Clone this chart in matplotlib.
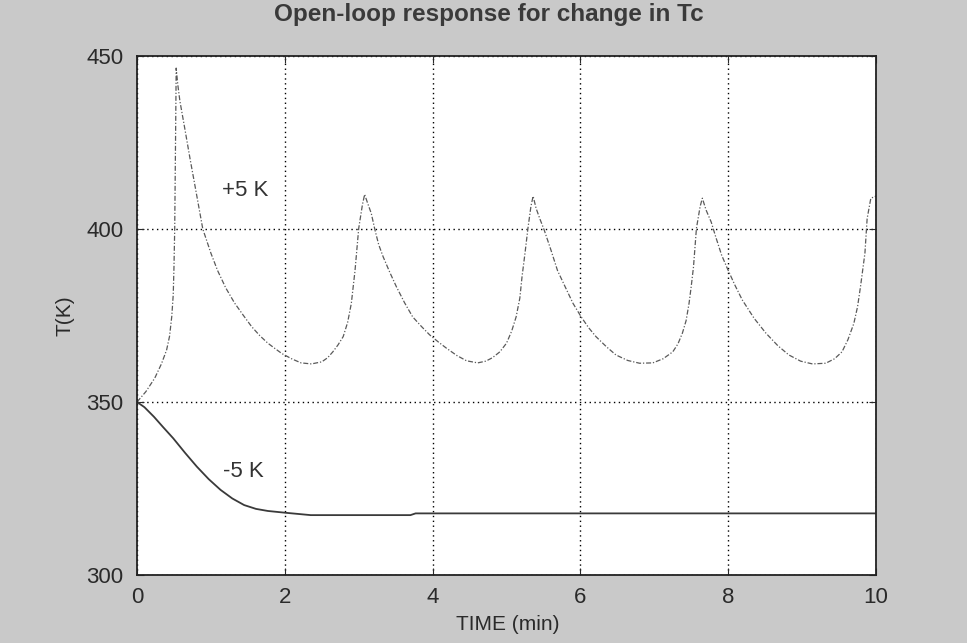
import matplotlib
matplotlib.use("Agg")
import matplotlib.pyplot as plt

plt.rcParams['font.family'] = ['Liberation Sans', 'DejaVu Sans']

# +5 K response
t_plus = [0.00, 0.12, 0.24, 0.33, 0.40, 0.44, 0.47, 0.49, 0.50, 0.51, 0.52, 0.53,
          0.55, 0.58, 0.65, 0.72, 0.78, 0.89, 1.00, 1.09, 1.20, 1.32, 1.44, 1.55,
          1.66, 1.77, 1.87, 1.96, 2.10, 2.22, 2.36, 2.50, 2.58, 2.65, 2.72, 2.79,
          2.85, 2.90, 2.95, 3.00, 3.05, 3.08,
          3.12, 3.17, 3.22, 3.27, 3.33, 3.42, 3.51, 3.62, 3.73, 3.85, 3.96, 4.08,
          4.19, 4.33, 4.46, 4.61, 4.72, 4.81, 4.91, 5.00, 5.07, 5.13, 5.18, 5.21,
          5.25, 5.29, 5.33, 5.36,
          5.40, 5.45, 5.51, 5.60, 5.69, 5.80, 5.90, 6.01, 6.11, 6.21, 6.35, 6.48,
          6.64, 6.80, 6.98, 7.12, 7.25, 7.32, 7.38, 7.43, 7.47, 7.50, 7.53, 7.57,
          7.62, 7.65,
          7.70, 7.77, 7.83, 7.91, 7.99, 8.09, 8.19, 8.35, 8.51, 8.67, 8.82, 8.98,
          9.14, 9.32, 9.44, 9.54, 9.62, 9.70, 9.75, 9.79, 9.85, 9.88, 9.93, 10.0]
T_plus = [350.0, 353.0, 356.9, 361.0, 365.0, 369.0, 374.7, 381.0, 389.0, 400.0, 422.8, 446.5,
          442.0, 437.0, 428.6, 420.0, 413.0, 400.0, 393.0, 388.0, 383.0, 378.6, 375.0, 371.8,
          369.2, 367.0, 365.4, 364.0, 362.4, 361.3, 361.0, 361.6, 362.8, 364.5, 366.5, 368.9,
          373.0, 378.5, 388.0, 400.2, 407.0, 410.0,
          407.5, 404.5, 399.7, 395.5, 392.0, 387.5, 383.3, 378.7, 374.6, 371.8, 369.4, 367.3,
          365.5, 363.4, 361.9, 361.3, 361.8, 362.8, 364.5, 367.0, 370.5, 374.6, 380.0, 386.2,
          393.0, 400.2, 406.5, 409.5,
          406.0, 403.0, 399.7, 394.0, 388.0, 383.0, 378.5, 374.6, 371.5, 368.9, 366.0, 363.6,
          362.0, 361.2, 361.3, 362.5, 364.5, 366.8, 369.9, 373.5, 378.5, 383.5, 389.0, 400.2,
          406.5, 408.9,
          405.5, 402.0, 397.8, 392.5, 388.5, 383.8, 379.5, 374.2, 369.9, 366.3, 363.6, 361.8,
          361.0, 361.2, 362.5, 364.5, 368.0, 372.7, 377.5, 383.3, 393.0, 403.0, 408.9, 409.5]

# -5 K response
t_minus = [0.00, 0.10, 0.23, 0.35, 0.49, 0.65, 0.81, 0.97, 1.13, 1.29, 1.45,
           1.61, 1.77, 2.00, 2.20, 2.35, 3.70, 3.77, 10.0]
T_minus = [350.0, 348.5, 345.7, 342.8, 339.5, 335.3, 331.3, 327.7, 324.6, 322.1, 320.2,
           319.1, 318.5, 318.0, 317.6, 317.3, 317.3, 317.8, 317.8]

x_ticks = [0, 2, 4, 6, 8, 10]
y_ticks = [300, 350, 400, 450]

fig = plt.figure(figsize=(9.67, 6.43), dpi=100)
fig.patch.set_facecolor('#c9c9c9')
ax = fig.add_axes([0.1417, 0.1058, 0.9059 - 0.1417, 0.9129 - 0.1058])
ax.set_facecolor('white')

ax.plot(t_plus, T_plus, color='#5a5a5a', lw=0.9, linestyle=(0, (4, 1.5, 1, 1.5)))
ax.plot(t_minus, T_minus, color='#3a3a3a', lw=1.3, linestyle='-')

ax.set_xlim(0, 10)
ax.set_ylim(300, 450)
ax.set_xticks(x_ticks)
ax.set_yticks(y_ticks)
ax.grid(True, color='black', linestyle=(0, (1, 2.5)), lw=1.0)
ax.tick_params(direction='in', length=5, top=True, right=True, labelsize=16,
               colors='#2a2a2a')
ax.tick_params(axis='y', pad=10)
ax.tick_params(axis='x', pad=9)
for s in ax.spines.values():
    s.set_linewidth(1.3)
    s.set_color('#222222')

ax.text(1.15, 411, '+5 K', fontsize=16, color='#333333', va='center', ha='left')
ax.text(1.16, 330, '-5 K', fontsize=16, color='#333333', va='center', ha='left')

ax.set_xlabel('TIME (min)', fontsize=15, color='#2a2a2a')
ax.set_ylabel('T(K)', fontsize=15, color='#2a2a2a')
ax.xaxis.set_label_coords(0.502, -0.0963)
ax.yaxis.set_label_coords(-0.0974, 0.50)
ax.xaxis.label.set_va('center')
ax.yaxis.label.set_va('center')
fig.text(0.5 + 0.005, 1 - 14 / 643, 'Open-loop response for change in Tc', fontsize=17.5,
         fontweight='bold', color='#3a3a3a', ha='center', va='center')

fig.savefig('out.png', dpi=100, facecolor=fig.get_facecolor())
